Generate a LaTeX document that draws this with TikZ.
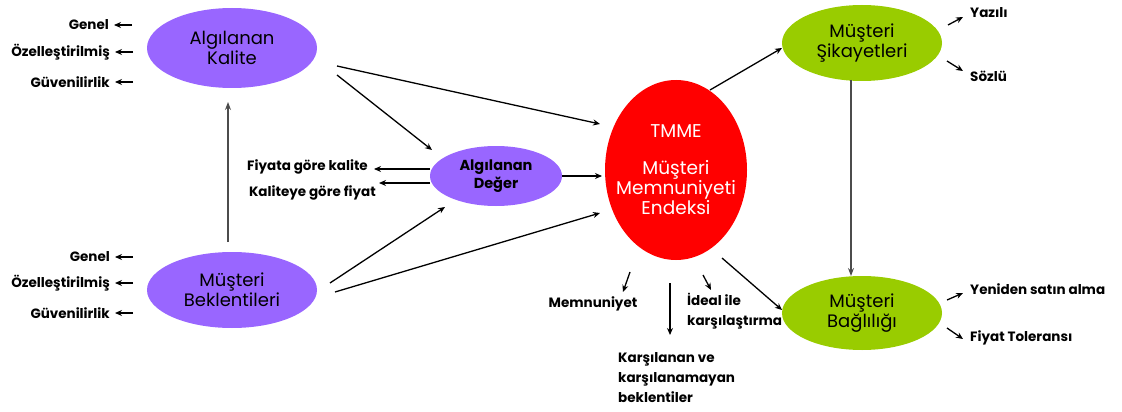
\documentclass[tikz,border=0pt]{standalone}
\usepackage{fontspec}
\setmainfont{Poppins}
\usetikzlibrary{shapes.geometric,arrows.meta,calc}
\definecolor{mor}{RGB}{153,102,255}
\definecolor{yesil}{RGB}{153,204,0}
\definecolor{kirmizi}{RGB}{255,0,0}
\begin{document}
\begin{tikzpicture}[x=1pt, y=-1pt,
  balon/.style={ellipse, inner sep=0pt, align=center, font=\fontsize{18}{20}\selectfont},
  etiket/.style={inner sep=0pt, align=left, font=\bfseries\fontsize{13.5}{20}\selectfont},
  ok/.style={-{Stealth[length=7pt,width=6pt]}, line width=1.3pt},
  gri/.style={-{Stealth[length=8pt,width=6pt]}, line width=1.2pt, black!70}]
\useasboundingbox (0,0) rectangle (1122,412);
% balonlar
\node[balon, fill=mor, minimum width=170pt, minimum height=80pt] (kalite) at (232,48) {Algılanan\\Kalite};
\node[balon, fill=mor, minimum width=170pt, minimum height=76pt] (beklenti) at (232,290) {Müşteri\\Beklentileri};
\node[balon, fill=mor, minimum width=132pt, minimum height=60pt, font=\bfseries\fontsize{14.5}{18}\selectfont] (deger) at (496,176) {Algılanan\\Değer};
\node[balon, fill=kirmizi, minimum width=142pt, minimum height=180pt] (tmme) at (676,170) {};
\node[align=center, text=white, font=\fontsize{18.5}{20}\selectfont] (tmmeyazi) at (tmme) {TMME\\[17pt]Müşteri\\Memnuniyeti\\Endeksi};
\node[balon, fill=yesil, minimum width=160pt, minimum height=76pt] (sikayet) at (862,43) {Müşteri\\Şikayetleri};
\node[balon, fill=yesil, minimum width=160pt, minimum height=74pt] (baglilik) at (862,313) {Müşteri\\Bağlılığı};
% sol etiketler
\node[etiket, anchor=east] (kgenel) at (109,25) {Genel};
\node[etiket, anchor=east] (kozel) at (110,52) {Özelleştirilmiş};
\node[etiket, anchor=east] (kguven) at (110,82) {Güvenilirlik};
\node[etiket, anchor=east] (bgenel) at (110,257) {Genel};
\node[etiket, anchor=east] (bozel) at (110,283) {Özelleştirilmiş};
\node[etiket, anchor=east] (bguven) at (110,313) {Güvenilirlik};
\foreach \e in {kgenel,kozel,kguven,bgenel,bozel,bguven}
  \draw[ok] ($(\e.east)+(23,0)$) -- ($(\e.east)+(5,0)$);
% deger etiketleri
\node[etiket, anchor=east] (fkalite) at (368,167) {Fiyata göre kalite};
\node[etiket, anchor=east] (kfiyat) at (376,193) {Kaliteye göre fiyat};
\draw[ok] ($(deger)+(-66,-7)$) -- ($(fkalite.east)+(6,2)$);
\draw[ok] ($(deger)+(-66,7)$) -- ($(kfiyat.east)+(3,-10)$);
% ana oklar
\draw[ok] ($(kalite)+(105,27)$) -- ($(deger)+(-64,-26)$);
\draw[ok] ($(kalite)+(105,18)$) -- ($(tmme)+(-76,-46)$);
\draw[ok] ($(beklenti)+(98,-7)$) -- ($(deger)+(-51,31)$);
\draw[ok] ($(beklenti)+(103,2)$) -- ($(tmme)+(-76,43)$);
\draw[ok] (deger.east) -- ($(tmme)+(-74,6)$);
\draw[gri] ($(beklenti)+(-4,-48)$) -- ($(kalite)+(-4,54)$);
\draw[ok] ($(tmme)+(34,-80)$) -- ($(sikayet)+(-80,5)$);
\draw[ok] ($(tmme)+(46,88)$) -- ($(baglilik)+(-80,-3)$);
\draw[gri] ($(sikayet)+(-11,37)$) -- ($(baglilik)+(-11,-37)$);
% alt etiketler
\node[etiket] (memnun) at (593,304) {Memnuniyet};
\node[etiket, anchor=north west] (karsilanan) at (618,352) {Karşılanan ve\\karşılanamayan\\beklentiler};
\node[etiket, anchor=north west] (ideal) at (687,293) {İdeal ile\\karşılaştırma};
\draw[ok] ($(tmme)+(-46,102)$) -- ($(memnun)+(30,-12)$);
\draw[ok] ($(tmme)+(-6,113)$) -- ($(karsilanan.north west)+(52,-17)$);
\draw[ok] ($(tmme)+(27,105)$) -- ($(ideal.north west)+(24,-3)$);
% sag etiketler
\node[etiket, anchor=west] (yazili) at (970,13) {Yazılı};
\node[etiket, anchor=west] (sozlu) at (970,76) {Sözlü};
\node[etiket, anchor=west] (yeniden) at (970,289) {Yeniden satın alma};
\node[etiket, anchor=west] (tolerans) at (970,338) {Fiyat Toleransı};
\draw[ok] ($(yazili.west)+(-22,12)$) -- ($(yazili.west)+(-7,4)$);
\draw[ok] ($(sozlu.west)+(-23,-15)$) -- ($(sozlu.west)+(-7,-5)$);
\draw[ok] ($(yeniden.west)+(-23,11)$) -- ($(yeniden.west)+(-7,4)$);
\draw[ok] ($(tolerans.west)+(-23,-10)$) -- ($(tolerans.west)+(-7,1)$);
\end{tikzpicture}
\end{document}
